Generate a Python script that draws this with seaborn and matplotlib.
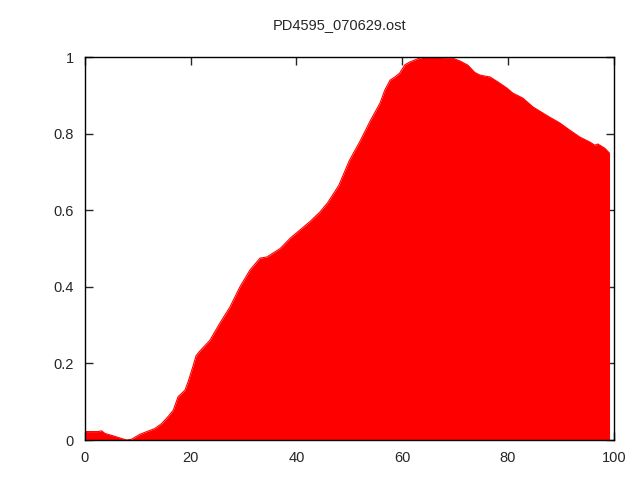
import matplotlib
matplotlib.use("Agg")
import matplotlib.pyplot as plt
import seaborn as sns
import pandas as pd

# values
pos = [0.0, 0.2, 2.5, 3.1, 3.8, 5.3, 6.9, 7.9, 8.8, 10.4, 11.7, 13.2, 14.5, 15.7,
       16.7, 17.6, 18.9, 19.5, 20.5, 21.0, 21.7, 23.6, 25.5, 27.4, 29.3, 31.2,
       33.1, 34.4, 36.9, 38.8, 40.6, 42.5, 44.4, 45.9, 48.0, 50.0, 52.0, 54.0,
       55.8, 56.7, 57.7, 58.6, 59.5, 60.5, 61.4, 62.8, 63.9, 67.5, 67.7, 69.6,
       70.9, 72.4, 73.7, 74.7, 76.6, 78.1, 79.8, 80.9, 82.8, 84.7, 86.0, 87.9,
       89.8, 91.7, 93.6, 95.5, 96.4, 97.0, 98.3, 99.2]
value = [0.024, 0.022, 0.022, 0.024, 0.017, 0.011, 0.004, 0.0, 0.002, 0.015,
         0.022, 0.030, 0.043, 0.061, 0.078, 0.113, 0.130, 0.152, 0.196, 0.220,
         0.232, 0.260, 0.305, 0.347, 0.400, 0.444, 0.475, 0.478, 0.500, 0.527,
         0.548, 0.570, 0.595, 0.620, 0.665, 0.730, 0.780, 0.835, 0.880, 0.914,
         0.940, 0.948, 0.958, 0.980, 0.987, 0.995, 1.0, 1.0, 0.997, 0.997,
         0.990, 0.979, 0.960, 0.953, 0.948, 0.935, 0.919, 0.906, 0.893, 0.870,
         0.859, 0.843, 0.828, 0.809, 0.791, 0.778, 0.770, 0.773, 0.762, 0.749]

df = pd.DataFrame({"x": pos, "y": value})

sns.set_style("ticks")
plt.rcParams["font.family"] = ["Liberation Sans", "DejaVu Sans"]

fig = plt.figure(figsize=(6.4, 4.8), dpi=100)
ax = fig.add_axes([0.1328, 0.0833, 0.8262, 0.7977])

sns.lineplot(data=df, x="x", y="y", color="red", linewidth=0.8, ax=ax)
ax.fill_between(df["x"], 0, df["y"], color="red", linewidth=0)

ax.set_xlim(0, 100)
ax.set_ylim(0, 1)
ax.set_xticks([0, 20, 40, 60, 80, 100])
ax.set_yticks([0, 0.2, 0.4, 0.6, 0.8, 1])
ax.set_yticklabels(["0", "0.2", "0.4", "0.6", "0.8", "1"])
ax.tick_params(direction="in", top=True, right=True, length=6, width=1,
               labelsize=10.5, pad=8)
for s in ax.spines.values():
    s.set_linewidth(1)
    s.set_color("black")
    s.set_visible(True)
ax.set_xlabel("")
ax.set_ylabel("")
fig.text(0.531, 0.947, "PD4595_070629.ost", ha="center", va="center", fontsize=10.5)

fig.savefig("out.png", dpi=100)
